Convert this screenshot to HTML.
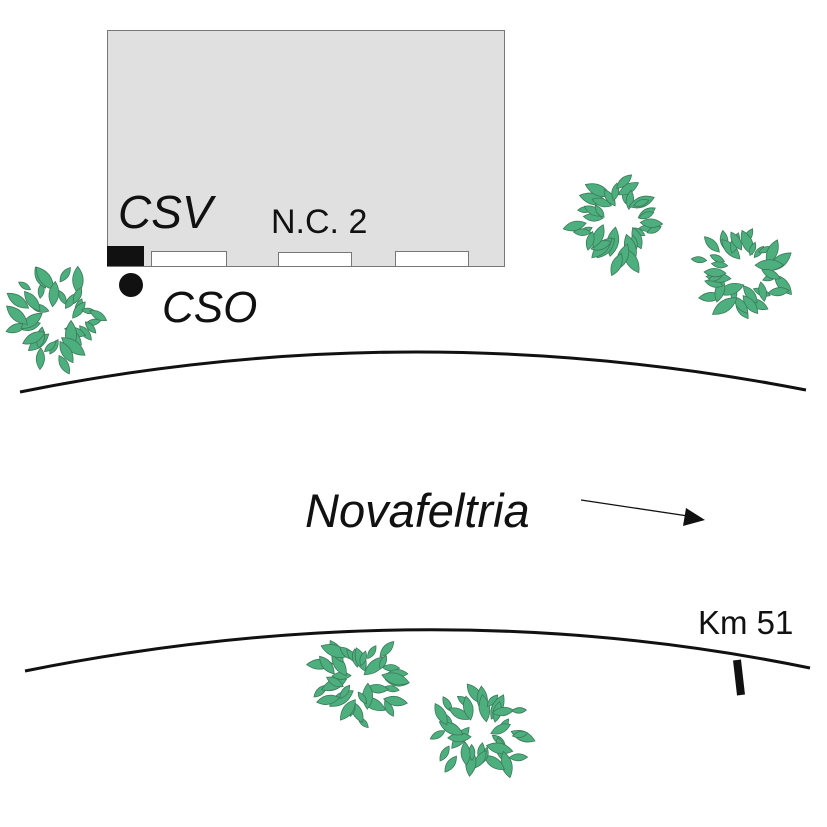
<!DOCTYPE html>
<html><head><meta charset="utf-8"><style>
html,body{margin:0;padding:0;background:#fff;}
svg{display:block;}
text{font-family:"Liberation Sans",sans-serif;fill:#111;}
</style></head><body>
<svg id="s" width="827" height="827" viewBox="0 0 827 827" xmlns="http://www.w3.org/2000/svg">
<rect x="107.5" y="30.5" width="397" height="236" fill="#e0e0e0" stroke="#777" stroke-width="1"/>
<rect x="107" y="246" width="37" height="20" fill="#111"/>
<rect x="151.5" y="251.5" width="75" height="15" fill="#fff" stroke="#777"/>
<rect x="278.5" y="252.5" width="73" height="14" fill="#fff" stroke="#777"/>
<rect x="395.5" y="251.5" width="73" height="15" fill="#fff" stroke="#777"/>
<text x="118" y="228" font-size="46" font-style="italic">CSV</text>
<text x="271" y="233" font-size="34">N.C. 2</text>
<circle cx="131" cy="285" r="12" fill="#111"/>
<text x="162" y="322" font-size="44" font-style="italic">CSO</text>
<path d="M20,392 Q410,313 806,390" fill="none" stroke="#111" stroke-width="3"/>
<path d="M25,671 Q430,590 810,668" fill="none" stroke="#111" stroke-width="3"/>
<text x="305" y="527" font-size="47" font-style="italic">Novafeltria</text>
<line x1="581" y1="500" x2="688" y2="516" stroke="#111" stroke-width="1.3"/>
<polygon points="705,520 683,526 686,508" fill="#111"/>
<text x="698" y="634" font-size="33">Km 51</text>
<line x1="737" y1="660" x2="741" y2="695" stroke="#111" stroke-width="8"/>
<g id="trees"></g>
</svg>
<script>
(function(){
var g=document.getElementById('trees');
var trees=[[58,318,50],[615,222,45],[741,273,48],[359,680,45],[481,732,48]];
var seed=7;function r(){seed=(seed*9301+49297)%233280;return seed/233280;}
var out='';
trees.forEach(function(t){
 var n=36;
 for(var i=0;i<n;i++){
  var a=i/n*Math.PI*2+r()*0.25;
  var rad=t[2]*(0.4+r()*0.55);
  var cx=t[0]+Math.cos(a)*rad, cy=t[1]+Math.sin(a)*rad;
  var L=7+r()*8, W=L*0.55;
  var deg=a*180/Math.PI+(r()-0.5)*80;
  out+='<path transform="translate('+cx.toFixed(1)+','+cy.toFixed(1)+') rotate('+deg.toFixed(1)+')" d="M'+(-L)+',0 Q0,'+(-W*1.4)+' '+L+',0 Q0,'+(W*1.4)+' '+(-L)+',0 Z" fill="#4caf7d" stroke="#3d7a5a" stroke-width="0.8"/>';
 }
});
g.innerHTML=out;
})();
</script>
</body></html>
